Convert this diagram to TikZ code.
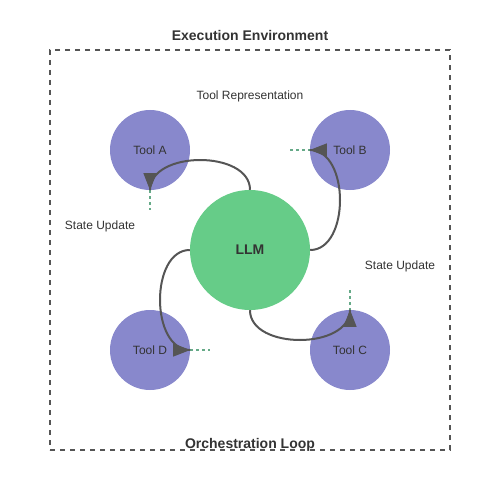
\documentclass[tikz,border=0pt]{standalone}
\usepackage{fontspec}
\setmainfont{Liberation Sans}
\usetikzlibrary{arrows.meta}
\definecolor{toolc}{HTML}{8888CC}
\definecolor{llmc}{HTML}{66CC88}
\definecolor{txt}{HTML}{333333}
\definecolor{edge}{HTML}{555555}
\definecolor{dotc}{HTML}{66AA88}
\tikzset{
  tool/.style={circle,fill=toolc,minimum size=80pt,inner sep=0pt,text=txt,font=\fontsize{12}{14}\selectfont},
  llmnode/.style={circle,fill=llmc,minimum size=120pt,inner sep=0pt,text=txt,font=\fontsize{14}{16}\selectfont\bfseries},
  lbl/.style={text=txt,font=\fontsize{12}{14}\selectfont,inner sep=0pt},
  title/.style={text=txt,font=\fontsize{14}{16}\selectfont\bfseries,inner sep=0pt},
  frame/.style={draw=edge,line width=1.5pt,dash pattern=on 5pt off 5pt},
  flow/.style={draw=edge,line width=2pt},
  tip/.style={draw=edge,line width=1pt,-{Triangle[length=17pt,width=13pt]}},
  dotl/.style={draw=dotc,line width=2pt,dash pattern=on 3pt off 3pt}
}
\begin{document}
\begin{tikzpicture}[x=1pt,y=-1pt]
\useasboundingbox (0,0) rectangle (500,500);
\node[minimum width=400pt,minimum height=400pt,inner sep=0pt,frame] (env) at (250,250) {};
\node[title] (envt) at (250,35) {Execution Environment};
\node[tool] (ta) at (150,150) {Tool A};
\node[tool] (tb) at (350,150) {Tool B};
\node[tool] (tc) at (350,350) {Tool C};
\node[tool] (td) at (150,350) {Tool D};
\node[llmnode] (llm) at (250,250) {LLM};
\node[lbl] (trep) at (250,96) {Tool Representation};
\node[lbl] (su1) at (100,226) {State Update};
\node[lbl] (su2) at (400,266) {State Update};
\coordinate (da) at (150,210);
\coordinate (db) at (290,150);
\coordinate (dc) at (350,290);
\coordinate (dd) at (210,350);
\draw[dotl] (ta.south) -- (da);
\draw[dotl] (db) -- (tb.west);
\draw[dotl] (dc) -- (tc.north);
\draw[dotl] (td.east) -- (dd);
\draw[flow] (llm.north) .. controls (250,150) and (150,150) .. (ta.south);
\draw[flow] (llm.east) .. controls (350,250) and (350,150) .. (tb.west);
\draw[flow] (llm.south) .. controls (250,350) and (350,350) .. (tc.north);
\draw[flow] (llm.west) .. controls (150,250) and (150,350) .. (td.east);
\draw[tip] ([yshift=1pt]ta.south) -- (ta.south);
\draw[tip] ([xshift=1pt]tb.west) -- (tb.west);
\draw[tip] ([yshift=-1pt]tc.north) -- (tc.north);
\draw[tip] ([xshift=-1pt]td.east) -- (td.east);
\node[title] (orch) at (250,445) {Orchestration Loop};
\end{tikzpicture}
\end{document}
